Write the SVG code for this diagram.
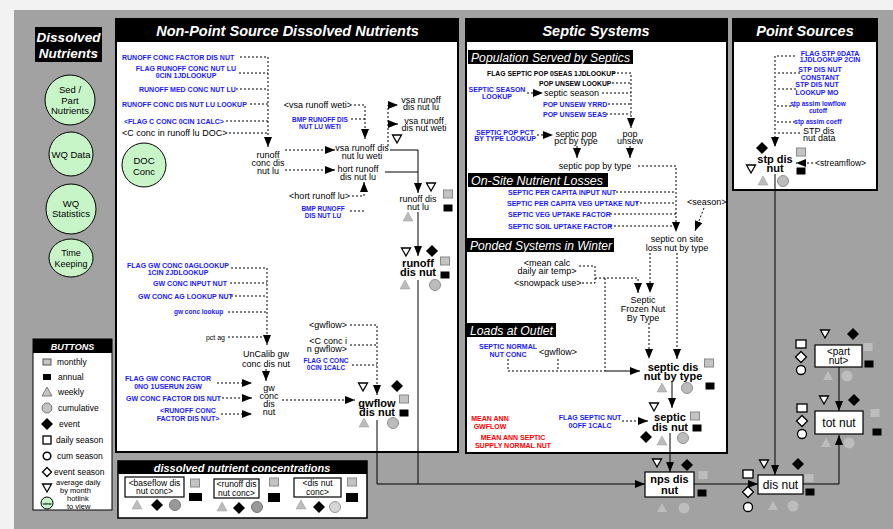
<svg xmlns="http://www.w3.org/2000/svg" xmlns:xlink="http://www.w3.org/1999/xlink" width="893" height="529" viewBox="0 0 893 529">
<style>
text{font-family:"Liberation Sans",Arial,sans-serif}
.b{font-size:7px;font-weight:bold;fill:#1a1aff}
.bs{font-size:6.5px;font-weight:bold;fill:#1a1aff}
.ks{font-size:6.8px;font-weight:bold;fill:#000}
.r{font-size:7px;font-weight:bold;fill:#ff0000}
.k{font-size:9px;fill:#000}
.n{font-size:11px;font-weight:bold;fill:#000}
.t{font-size:14.5px;font-weight:bold;font-style:italic;fill:#fff}
.lb{font-size:12.5px;font-style:italic;fill:#fff}
.g{font-size:9.5px;fill:#000}
.leg{font-size:8.5px;fill:#000}
.leg2{font-size:7.5px;fill:#000}
.c{text-anchor:middle}
.e{text-anchor:end}
.d{stroke:#000;stroke-width:1;stroke-dasharray:2,2;fill:none}
.s{stroke:#000;stroke-width:1;fill:none}
.a{marker-end:url(#ah)}
.panel{fill:#fff;stroke:#000;stroke-width:2}
.bar{fill:#000}
.circ{fill:#c8f5c8;stroke:#000;stroke-width:1}
.box{fill:#fff;stroke:#000;stroke-width:1.2}
</style>
<defs>
<marker id="ah" markerWidth="10" markerHeight="8" refX="10" refY="4" orient="auto" markerUnits="userSpaceOnUse"><path d="M0,0 L10,4 L0,8 Z" fill="#000"/></marker>
<rect id="gsq" x="-4.5" y="-4" width="9" height="8" fill="#c4c4c4" stroke="#8a8a8a"/>
<rect id="bsq" x="-4.5" y="-3.5" width="9" height="7" fill="#000"/>
<path id="gtri" d="M0,-5 L5,4 L-5,4 Z" fill="#bcbcbc" stroke="#999" stroke-width="0.5"/>
<circle id="gcir" r="5.5" fill="#bcbcbc" stroke="#909090"/>
<path id="bdia" d="M0,-6 L6,0 L0,6 L-6,0 Z" fill="#000"/>
<path id="wtri" d="M-4.5,-4 L4.5,-4 L0,4 Z" fill="#fff" stroke="#000" stroke-width="1.3"/>
<rect id="wsq" x="-5" y="-4" width="10" height="8" fill="#fff" stroke="#000" stroke-width="1.3"/>
<circle id="wcir" r="4.5" fill="#fff" stroke="#000" stroke-width="1.3"/>
<path id="wdia" d="M0,-5.5 L5.5,0 L0,5.5 L-5.5,0 Z" fill="#fff" stroke="#000" stroke-width="1.3"/>
<rect id="lsq" x="-4.5" y="-4" width="9" height="8" fill="#bdbdbd"/>
<path id="ltri" d="M0,-5 L5,4 L-5,4 Z" fill="#bdbdbd"/>
<circle id="lcir" r="5.5" fill="#bdbdbd"/>
</defs>

<rect width="893" height="529" fill="#f2f2f2"/>
<rect x="14" y="10" width="879" height="519" fill="#a2a2a2"/>

<!-- title box -->
<g id="title">
<rect x="35" y="27" width="67" height="35" fill="#000"/>
<text x="68.5" y="42" class="c" style="font-size:13.5px;font-weight:bold;font-style:italic;fill:#fff">Dissolved</text>
<text x="68.5" y="58" class="c" style="font-size:13.5px;font-weight:bold;font-style:italic;fill:#fff">Nutrients</text>
</g>

<!-- nav circles -->
<g id="nav-sed"><circle cx="70" cy="100" r="25" class="circ"/><text x="70" y="93" class="g c">Sed /</text><text x="70" y="103.5" class="g c">Part</text><text x="70" y="114" class="g c">Nutrients</text></g>
<g id="nav-wqdata"><circle cx="71" cy="154" r="22" class="circ"/><text x="71" y="157.5" class="g c">WQ Data</text></g>
<g id="nav-wqstat"><circle cx="71" cy="209" r="25" class="circ"/><text x="71" y="206.5" class="g c">WQ</text><text x="71" y="217" class="g c">Statistics</text></g>
<g id="nav-time"><ellipse cx="71" cy="258" rx="22" ry="19" class="circ"/><text x="71" y="255.5" class="c" style="font-size:9px">Time</text><text x="71" y="266.5" class="c" style="font-size:9px">Keeping</text></g>

<!-- buttons legend -->
<g id="buttons">
<rect x="33" y="339" width="79" height="171" fill="#fff" stroke="#000"/>
<rect x="33" y="339" width="79" height="14" fill="#000"/>
<text x="72.5" y="349.5" class="c" style="font-size:9px;font-weight:bold;font-style:italic;fill:#fff">BUTTONS</text>
<rect x="43" y="359" width="8" height="6" fill="#c4c4c4" stroke="#555"/><text x="57" y="365" class="leg">monthly</text>
<rect x="43" y="374" width="8" height="6" fill="#000"/><text x="58" y="380" class="leg">annual</text>
<path d="M47,387 L52,396 L42,396 Z" fill="#c4c4c4" stroke="#555" stroke-width="0.7"/><text x="58" y="395" class="leg">weekly</text>
<circle cx="47" cy="408" r="5" fill="#c4c4c4" stroke="#777"/><text x="58" y="411" class="leg">cumulative</text>
<path d="M47,418 L53,424 L47,430 L41,424 Z" fill="#000"/><text x="59" y="427" class="leg">event</text>
<rect x="43" y="436" width="8" height="8" fill="#fff" stroke="#000" stroke-width="1.3"/><text x="56" y="443" class="leg">daily season</text>
<circle cx="47" cy="456" r="3.8" fill="#fff" stroke="#000" stroke-width="1.5"/><text x="57" y="459" class="leg">cum season</text>
<path d="M47,467.5 L51.5,472 L47,476.5 L42.5,472 Z" fill="#fff" stroke="#000" stroke-width="1.3"/><text x="54" y="475" class="leg">event season</text>
<path d="M42.5,484 L51.5,484 L47,492 Z" fill="#fff" stroke="#000" stroke-width="1.3"/><text x="56" y="485" class="leg2">average daily</text><text x="60" y="493" class="leg2">by month</text>
<circle cx="47" cy="503" r="6" fill="#c8f5c8" stroke="#000"/><text x="47" y="504.5" class="c" style="font-size:4px;font-weight:bold">view</text><text x="67" y="501" class="leg2">hotlink</text><text x="67" y="508.5" class="leg2">to view</text>
</g>

<!-- panels -->
<g id="panel-nps">
<rect x="116" y="19" width="342" height="433" class="panel"/>
<rect x="116" y="19" width="342" height="23" class="bar"/>
<text x="287.5" y="36" class="t c">Non-Point Source Dissolved Nutrients</text>
</g>
<g id="panel-septic">
<rect x="466" y="19" width="261" height="434" class="panel"/>
<rect x="466" y="19" width="261" height="23" class="bar"/>
<text x="596" y="36" class="t c">Septic Systems</text>
<rect x="468" y="50" width="165" height="14" fill="#000"/><text x="471" y="61.5" class="lb" textLength="159" lengthAdjust="spacingAndGlyphs">Population Served by Septics</text>
<rect x="468" y="173" width="140" height="14" fill="#000"/><text x="471" y="184.5" class="lb" textLength="132" lengthAdjust="spacingAndGlyphs">On-Site Nutrient Losses</text>
<rect x="467" y="238" width="147" height="14" fill="#000"/><text x="470" y="249.5" class="lb" textLength="142" lengthAdjust="spacingAndGlyphs">Ponded Systems in Winter</text>
<rect x="467" y="323" width="89" height="14" fill="#000"/><text x="470" y="334.5" class="lb" textLength="83" lengthAdjust="spacingAndGlyphs">Loads at Outlet</text>
</g>
<g id="panel-point">
<rect x="733" y="19" width="144" height="171" class="panel"/>
<rect x="733" y="19" width="144" height="23" class="bar"/>
<text x="805" y="36" class="t c">Point Sources</text>
</g>
<g id="panel-conc">
<rect x="118" y="461" width="249" height="57" fill="#fff" stroke="#000" stroke-width="1.5"/>
<rect x="118" y="461" width="249" height="13" fill="#000"/>
<text x="242" y="471.5" class="c" style="font-size:11px;font-weight:bold;font-style:italic;fill:#fff">dissolved nutrient concentrations</text>
</g>

<!-- connectors -->
<g id="connectors">
<path class="d a" d="M240,57 H268 V147"/>
<path class="d" d="M239,73 H268"/>
<path class="d" d="M236,89 H268"/>
<path class="d" d="M250,104 H268"/>
<path class="d" d="M226,121 H268"/>
<path class="d" d="M229,133 H268"/>
<path class="d a" d="M285,150 H335"/>
<path class="d a" d="M285,170 H335"/>
<path class="d a" d="M354,105 H365 V139"/>
<path class="d" d="M351,119 H365"/>
<path class="d a" d="M352,196 H364 V182"/>
<path class="d" d="M350,211 H364"/>
<path class="d a" d="M388,146 V105 H398"/>
<path class="d a" d="M388,124 H398"/>
<path class="s a" d="M390,150 H418 V193"/>
<path class="s" d="M385,172 H418"/>
<path class="s a" d="M418,212 V256"/>
<path class="s" d="M418,280 V484"/>
<path class="d a" d="M350,325 H377 V395"/>
<path class="d" d="M350,345 H377"/>
<path class="d" d="M352,365 H377"/>
<path class="d a" d="M282,400 H355"/>
<path class="s a" d="M377,420 V484 H645"/>
<path class="d a" d="M231,268 H267 V345"/>
<path class="d" d="M230,283 H267"/>
<path class="d" d="M231,296 H267"/>
<path class="d" d="M228,312 H267"/>
<path class="d" d="M228,337 H267"/>
<path class="s a" d="M266,369 V381"/>
<path class="d a" d="M217,383 H252"/>
<path class="d a" d="M222,398 H252"/>
<path class="d a" d="M221,414 H252"/>
<!-- septic -->
<path class="d a" d="M613,73 H631 V128"/>
<path class="d" d="M612,83 H631"/>
<path class="d a" d="M527,93 H543"/>
<path class="d" d="M602,93 H631"/>
<path class="d" d="M608,104 H631"/>
<path class="d" d="M606,114 H631"/>
<path class="s a" d="M630,146 V158"/>
<path class="d a" d="M537,135 H553"/>
<path class="s a" d="M577,146 V158"/>
<path class="d a" d="M638,166 H676 V232"/>
<path class="d" d="M616,192 H676"/>
<path class="d" d="M636,203 H676"/>
<path class="d" d="M610,214 H676"/>
<path class="d" d="M610,226 H676"/>
<path class="d a" d="M704,208 L695,231"/>
<path class="d" d="M579,266 H595 V283 H582"/>
<path class="d a" d="M595,278 H638 V293"/>
<path class="d a" d="M650,253 V293"/>
<path class="d a" d="M649,323 V359"/>
<path class="d a" d="M677,253 V359"/>
<path class="d" d="M605,278 V371"/>
<path class="d" d="M508,359 V371 H605"/>
<path class="d" d="M558,359 V371"/>
<path class="s a" d="M605,371 H640"/>
<path class="s a" d="M672,382 V408"/>
<path class="d a" d="M622,421 H648"/>
<path class="s a" d="M670,433 V472"/>
<!-- outlet -->
<path class="s a" d="M694,484 H758"/>
<path class="s a" d="M803,484 H839 V435"/>
<path class="s a" d="M839,367 V411"/>
<path class="s a" d="M775,174 V475"/>
<!-- point sources -->
<path class="d a" d="M795,56 H775 V147"/>
<path class="d" d="M800,73 H776"/>
<path class="d" d="M796,89 H776"/>
<path class="d" d="M795,106 H776"/>
<path class="d" d="M795,122 H776"/>
<path class="d" d="M800,133 H776"/>
<path class="d a" d="M813,163 H796"/>
</g>

<!-- NPS nodes -->
<g id="doc-conc"><circle cx="144" cy="165" r="22" class="circ"/><text x="144" y="164" class="c" style="font-size:9.5px">DOC</text><text x="144" y="175" class="c" style="font-size:9.5px">Conc</text></g>
<g id="runoff-conc-factor"><text x="122" y="59.5" class="b">RUNOFF CONC FACTOR DIS NUT</text></g>
<g id="flag-runoff-conc"><text x="186" y="70.5" class="b c">FLAG RUNOFF CONC NUT LU</text><text x="186" y="78" class="b c">0CIN 1JDLOOKUP</text></g>
<g id="runoff-med-conc"><text x="139" y="91.5" class="b">RUNOFF MED CONC NUT LU</text></g>
<g id="runoff-conc-lookup"><text x="122" y="106.5" class="b">RUNOFF CONC DIS NUT LU LOOKUP</text></g>
<g id="flag-c-conc"><text x="124" y="123.5" class="b">&lt;FLAG C CONC 0CIN 1CALC&gt;</text></g>
<g id="c-conc-runoff"><text x="122" y="136" class="k">&lt;C conc in runoff lu DOC&gt;</text></g>
<g id="runoff-conc-dis-nut-lu"><text x="268" y="158" class="k c">runoff</text><text x="268" y="166" class="k c">conc dis</text><text x="268" y="174" class="k c">nut lu</text></g>
<g id="vsa-runoff-weti"><text x="352" y="108" class="k e">&lt;vsa runoff weti&gt;</text></g>
<g id="bmp-runoff-weti"><text x="320" y="121.5" class="bs c">BMP RUNOFF DIS</text><text x="320" y="128.5" class="bs c">NUT LU WETI</text></g>
<g id="vsa-runoff-lu-weti"><text x="362" y="151" class="k c">vsa runoff dis</text><text x="362" y="158.5" class="k c">nut lu weti</text><use href="#wtri" x="397" y="139"/></g>
<g id="vsa-runoff-dis-nut-lu"><text x="421" y="102.5" class="k c">vsa runoff</text><text x="421" y="110" class="k c">dis nut lu</text></g>
<g id="vsa-runoff-dis-nut-weti"><text x="424" y="123.5" class="k c">vsa runoff</text><text x="424" y="131" class="k c">dis nut weti</text></g>
<g id="hort-runoff"><text x="358" y="172" class="k c">hort runoff</text><text x="358" y="179.5" class="k c">dis nut lu</text></g>
<g id="hort-runoff-lu"><text x="350" y="199" class="k e">&lt;hort runoff lu&gt;</text></g>
<g id="bmp-runoff"><text x="323" y="210.5" class="bs c">BMP RUNOFF</text><text x="323" y="217.5" class="bs c">DIS NUT LU</text></g>
<g id="runoff-dis-nut-lu"><text x="418" y="202" class="k c">runoff dis</text><text x="418" y="210" class="k c">nut lu</text><use href="#wtri" x="431" y="187"/><use href="#gsq" x="448" y="194"/><use href="#bsq" x="448" y="208"/><use href="#gtri" x="408" y="217"/></g>
<g id="runoff-dis-nut"><text x="418" y="267" class="n c">runoff</text><text x="418" y="276" class="n c">dis nut</text><use href="#wtri" x="406" y="252"/><use href="#bdia" x="432" y="251"/><use href="#gsq" x="445" y="261"/><use href="#bsq" x="445" y="275"/><use href="#gtri" x="405" y="285"/><use href="#gcir" x="435" y="285"/></g>
<g id="gwflow-in"><text x="347" y="328" class="k e">&lt;gwflow&gt;</text></g>
<g id="c-conc-gwflow"><text x="347" y="344" class="k e">&lt;C conc i</text><text x="347" y="352" class="k e">n gwflow&gt;</text></g>
<g id="flag-c-conc-2"><text x="326" y="362.5" class="bs c">FLAG C CONC</text><text x="326" y="369.5" class="bs c">0CIN 1CALC</text></g>
<g id="gwflow-dis-nut"><text x="377" y="407" class="n c">gwflow</text><text x="377" y="416" class="n c">dis nut</text><use href="#wtri" x="363" y="387"/><use href="#bdia" x="397" y="386"/><use href="#gsq" x="404" y="399"/><use href="#bsq" x="404" y="413"/><use href="#gtri" x="364" y="423"/><use href="#gcir" x="393" y="423"/></g>
<g id="flag-gw-conc"><text x="178" y="267.5" class="b c">FLAG GW CONC 0AGLOOKUP</text><text x="178" y="274.5" class="b c">1CIN 2JDLOOKUP</text></g>
<g id="gw-conc-input"><text x="227" y="285.5" class="b e">GW CONC INPUT NUT</text></g>
<g id="gw-conc-ag"><text x="138" y="298.5" class="b">GW CONC AG LOOKUP NUT</text></g>
<g id="gw-conc-lookup"><text x="174" y="314" class="bs">gw conc lookup</text></g>
<g id="pct-ag"><text x="225" y="339.5" class="e" style="font-size:7px">pct ag</text></g>
<g id="uncalib-gw"><text x="266" y="357" class="k c">UnCalib gw</text><text x="266" y="367" class="k c">conc dis nut</text></g>
<g id="gw-conc-dis-nut"><text x="269" y="391" class="k c">gw</text><text x="269" y="399" class="k c">conc</text><text x="269" y="407" class="k c">dis</text><text x="269" y="415" class="k c">nut</text></g>
<g id="flag-gw-factor"><text x="168" y="380.5" class="b c">FLAG GW CONC FACTOR</text><text x="168" y="388.5" class="b c">0NO 1USERUN 2GW</text></g>
<g id="gw-conc-factor"><text x="126" y="400.5" class="b">GW CONC FACTOR DIS NUT</text></g>
<g id="runoff-conc-factor-2"><text x="188" y="412.5" class="b c">&lt;RUNOFF CONC</text><text x="188" y="420.5" class="b c">FACTOR DIS NUT&gt;</text></g>

<!-- concentrations -->
<g id="baseflow-conc"><rect x="125" y="477" width="59" height="20" class="box"/><text x="154.5" y="485.5" class="c" style="font-size:8.5px">&lt;baseflow dis</text><text x="154.5" y="494" class="c" style="font-size:8.5px">nut conc&gt;</text><use href="#gsq" x="195" y="483"/><rect x="189" y="493" width="13" height="8" fill="#000"/><use href="#gtri" x="137" y="505"/><use href="#bdia" x="157" y="505"/><circle cx="175" cy="505" r="5.5" fill="#999" stroke="#777"/></g>
<g id="runoff-conc"><rect x="214" y="479" width="45" height="19" class="box"/><text x="236.5" y="487" class="c" style="font-size:8.5px">&lt;runoff dis</text><text x="236.5" y="495.5" class="c" style="font-size:8.5px">nut conc&gt;</text><use href="#gsq" x="274" y="482"/><rect x="268" y="493" width="12" height="9" fill="#000"/><use href="#gtri" x="222" y="507"/><use href="#bdia" x="239" y="508"/><circle cx="257" cy="507" r="5.5" fill="#999" stroke="#777"/></g>
<g id="dis-nut-conc"><rect x="294" y="478" width="47" height="19" class="box"/><text x="317.5" y="486" class="c" style="font-size:8.5px">&lt;dis nut</text><text x="317.5" y="494.5" class="c" style="font-size:8.5px">conc&gt;</text><use href="#gsq" x="352" y="482"/><rect x="346" y="493" width="12" height="9" fill="#000"/><use href="#gtri" x="301" y="505"/><use href="#bdia" x="319" y="507"/><circle cx="335" cy="507" r="5.5" fill="#d6d6d6" stroke="#999"/></g>

<!-- septic nodes -->
<g id="flag-septic-pop"><text x="487" y="75.5" class="ks">FLAG SEPTIC POP 0SEAS 1JDLOOKUP</text></g>
<g id="pop-unsew-lookup"><text x="539" y="85.5" class="ks">POP UNSEW LOOKUP</text></g>
<g id="septic-season-lookup"><text x="497" y="91.5" class="b c">SEPTIC SEASON</text><text x="497" y="98.5" class="b c">LOOKUP</text></g>
<g id="septic-season"><text x="544" y="96" class="k">septic season</text></g>
<g id="pop-unsew-yrrd"><text x="543" y="106.5" class="b">POP UNSEW YRRD</text></g>
<g id="pop-unsew-seas"><text x="543" y="116.5" class="b">POP UNSEW SEAS</text></g>
<g id="pop-unsew"><text x="630" y="137" class="k c">pop</text><text x="630" y="144" class="k c">unsew</text></g>
<g id="septic-pop-pct-lookup"><text x="505" y="134.5" class="b c">SEPTIC POP PCT</text><text x="505" y="141" class="b c">BY TYPE LOOKUP</text></g>
<g id="septic-pop-pct"><text x="576" y="136.5" class="k c">septic pop</text><text x="576" y="144" class="k c">pct by type</text></g>
<g id="septic-pop-by-type"><text x="595" y="169" class="k c">septic pop by type</text></g>
<g id="per-capita-input"><text x="508" y="194.5" class="b">SEPTIC PER CAPITA INPUT NUT</text></g>
<g id="per-capita-veg"><text x="507" y="205.5" class="b">SEPTIC PER CAPITA VEG UPTAKE NUT</text></g>
<g id="season"><text x="687" y="205" class="k">&lt;season&gt;</text></g>
<g id="veg-uptake"><text x="508" y="216.5" class="b">SEPTIC VEG UPTAKE FACTOR</text></g>
<g id="soil-uptake"><text x="508" y="228.5" class="b">SEPTIC SOIL UPTAKE FACTOR</text></g>
<g id="septic-on-site"><text x="677" y="242" class="k c">septic on site</text><text x="677" y="251" class="k c">loss nut by type</text></g>
<g id="mean-calc-temp"><text x="547" y="266" class="k c">&lt;mean calc</text><text x="547" y="274" class="k c">daily air temp&gt;</text></g>
<g id="snowpack"><text x="514" y="286" class="k">&lt;snowpack use&gt;</text></g>
<g id="septic-frozen"><text x="643" y="303" class="k c">Septic</text><text x="643" y="312" class="k c">Frozen Nut</text><text x="643" y="321" class="k c">By Type</text></g>
<g id="septic-normal"><text x="508" y="348.5" class="b c">SEPTIC NORMAL</text><text x="508" y="356.5" class="b c">NUT CONC</text></g>
<g id="gwflow-septic"><text x="558" y="355" class="k c">&lt;gwflow&gt;</text></g>
<g id="septic-dis-nut-by-type"><text x="673" y="371" class="n c">septic dis</text><text x="673" y="380" class="n c">nut by type</text><use href="#gsq" x="709" y="363"/><use href="#bsq" x="710" y="386"/><use href="#gtri" x="662" y="388"/><use href="#gcir" x="687" y="388"/></g>
<g id="septic-dis-nut"><text x="670" y="421" class="n c">septic</text><text x="670" y="431" class="n c">dis nut</text><use href="#wtri" x="654" y="407"/><use href="#gsq" x="695" y="416"/><use href="#bsq" x="697" y="428"/><use href="#bdia" x="646" y="437"/><use href="#gtri" x="662" y="441"/><use href="#gcir" x="683" y="438"/></g>
<g id="flag-septic-nut"><text x="590" y="419.5" class="b c">FLAG SEPTIC NUT</text><text x="590" y="427.5" class="b c">0OFF 1CALC</text></g>
<g id="mean-ann-gwflow"><text x="490" y="420.5" class="r c">MEAN ANN</text><text x="490" y="428.5" class="r c">GWFLOW</text></g>
<g id="mean-ann-septic"><text x="513" y="439.5" class="r c">MEAN ANN SEPTIC</text><text x="513" y="447.5" class="r c">SUPPLY NORMAL NUT</text></g>

<!-- outlet nodes -->
<g id="nps-dis-nut"><rect x="645" y="472" width="49" height="25" class="box"/><text x="669.5" y="482.5" class="n c">nps dis</text><text x="669.5" y="494" class="n c">nut</text><use href="#wtri" x="657" y="463"/><use href="#bdia" x="687" y="465"/><use href="#lsq" x="703" y="475"/><use href="#bsq" x="702" y="493"/><use href="#ltri" x="662" y="508"/><use href="#lcir" x="684" y="508"/></g>
<g id="dis-nut"><rect x="758" y="475" width="45" height="19" class="box"/><text x="780.5" y="488.5" class="c" style="font-size:12px">dis nut</text><use href="#wtri" x="764" y="464"/><use href="#bdia" x="798" y="464"/><use href="#wsq" x="748" y="474"/><use href="#wdia" x="748" y="492"/><use href="#wcir" x="748" y="507"/><use href="#lsq" x="809" y="478"/><use href="#bsq" x="810" y="492"/><use href="#ltri" x="773" y="506"/><use href="#lcir" x="793" y="506"/></g>
<g id="tot-nut"><rect x="815" y="411" width="48" height="23" class="box"/><text x="839" y="426.5" class="c" style="font-size:12px">tot nut</text><use href="#wtri" x="824" y="400"/><use href="#bdia" x="854" y="400"/><use href="#wsq" x="802" y="408"/><use href="#wdia" x="802" y="421"/><use href="#wcir" x="802" y="434"/><use href="#lsq" x="875" y="413"/><use href="#bsq" x="877" y="432"/><use href="#ltri" x="826" y="443"/><use href="#lcir" x="849" y="443"/></g>
<g id="part-nut"><rect x="815" y="345" width="47" height="22" class="box"/><text x="838.5" y="355" class="c" style="font-size:10px">&lt;part</text><text x="838.5" y="364" class="c" style="font-size:10px">nut&gt;</text><use href="#wtri" x="825" y="334"/><use href="#bdia" x="853" y="334"/><use href="#wsq" x="801" y="344"/><use href="#wdia" x="801" y="357"/><use href="#wcir" x="801" y="370"/><use href="#lsq" x="868" y="347"/><use href="#bsq" x="869" y="364"/><use href="#ltri" x="828" y="376"/><use href="#lcir" x="847" y="376"/></g>

<!-- point source nodes -->
<g id="flag-stp"><text x="830" y="55.5" class="b c">FLAG STP 0DATA</text><text x="830" y="62" class="b c">1JDLOOKUP 2CIN</text></g>
<g id="stp-constant"><text x="820" y="71.5" class="b c">STP DIS NUT</text><text x="820" y="79.5" class="b c">CONSTANT</text></g>
<g id="stp-lookup"><text x="817" y="86.5" class="b c">STP DIS NUT</text><text x="817" y="94.5" class="b c">LOOKUP MO</text></g>
<g id="stp-lowflow"><text x="818" y="105.5" class="bs c">stp assim lowflow</text><text x="818" y="112.5" class="bs c">cutoff</text></g>
<g id="stp-coeff"><text x="818" y="123.5" class="bs c">stp assim coeff</text></g>
<g id="stp-data"><text x="803" y="133.5" class="k">STP dis</text><text x="803" y="140.5" class="k">nut data</text></g>
<g id="stp-dis-nut"><text x="775" y="163" class="n c">stp dis</text><text x="775" y="172" class="n c">nut</text><use href="#bdia" x="762" y="148"/><use href="#gsq" x="801" y="152"/><use href="#bsq" x="801" y="171"/><use href="#wtri" x="751" y="169"/><use href="#gtri" x="763" y="181"/><use href="#gcir" x="783" y="181"/></g>
<g id="streamflow"><text x="815" y="166" style="font-size:8.5px">&lt;streamflow&gt;</text></g>
</svg>
